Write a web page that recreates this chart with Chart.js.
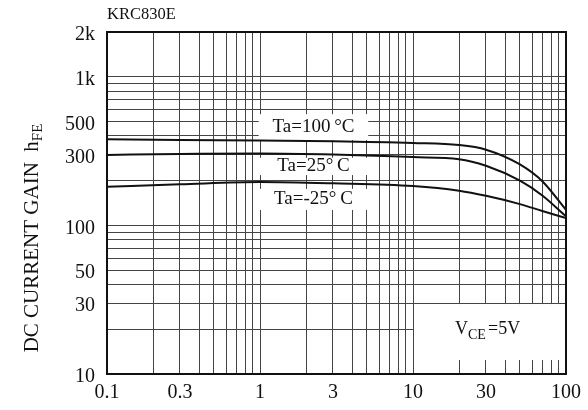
<!DOCTYPE html>
<html>
<head>
<meta charset="utf-8">
<script src="https://cdn.jsdelivr.net/npm/chart.js@4"></script>
<style>
  html, body { margin: 0; padding: 0; background: #fff; }
  #wrap { width: 588px; height: 410px; position: relative; }
</style>
</head>
<body>
<div id="wrap"><canvas id="c" width="588" height="410"></canvas></div>
<script>
// Collector current I_C (mA)
const currents = [0.1, 0.3, 1, 3, 10, 20, 30, 50, 70, 100];
// DC current gain hFE for each ambient temperature
const gain100 = [380, 376, 372, 368, 358, 347, 323, 257, 198, 127];
const gain25 = [298, 302, 305, 300, 288, 279, 252, 200, 159, 115];
const gainM25 = [182, 189, 196, 192, 184, 171, 158, 139, 125, 112];

// Grid positions and the tick values that carry a label
const xGrid = [0.1,0.2,0.3,0.4,0.5,0.6,0.7,0.8,0.9,1,2,3,4,5,6,7,8,9,10,20,30,40,50,60,70,80,90,100];
const xLabels = {0.1:'0.1', 0.3:'0.3', 1:'1', 3:'3', 10:'10', 30:'30', 100:'100'};
const yGrid = [10,20,30,40,50,60,70,80,90,100,200,300,400,500,600,700,800,900,1000,2000];
const yLabels = {10:'10', 30:'30', 50:'50', 100:'100', 300:'300', 500:'500', 1000:'1k', 2000:'2k'};

const serif = '"Liberation Serif", "Times New Roman", serif';

function pts(ys) { return currents.map((x, i) => ({x, y: ys[i]})); }

// White label boxes with text, drawn over the grid
const labelBoxes = [
  {x0: 0.98, x1: 5.1, y0: 560, y1: 375, text: 'Ta=100\u2009°C'},
  {x0: 0.98, x1: 5.1, y0: 285, y1: 218, text: 'Ta=25°\u2009C'},
  {x0: 0.98, x1: 5.1, y0: 176, y1: 127, text: 'Ta=-25°\u2009C'},
];

const overlay = {
  id: 'overlay',
  beforeDatasetsDraw(chart) {
    const {ctx, scales: {x, y}, chartArea: a} = chart;
    ctx.save();
    ctx.fillStyle = '#fff';
    for (const b of labelBoxes) {
      const l = x.getPixelForValue(b.x0), r = x.getPixelForValue(b.x1);
      const t = y.getPixelForValue(b.y0), bt = y.getPixelForValue(b.y1);
      ctx.fillRect(l, t, r - l, bt - t);
    }
    // condition box in the lower right corner
    const vl = x.getPixelForValue(10) + 1, vt = y.getPixelForValue(30) + 1;
    ctx.fillRect(vl, vt, a.right - vl - 1, 360 - vt);
    ctx.restore();
  },
  afterDatasetsDraw(chart) {
    const {ctx, scales: {x, y}, chartArea: a} = chart;
    ctx.save();
    ctx.fillStyle = '#111';
    ctx.font = '19px ' + serif;
    ctx.textAlign = 'center';
    ctx.textBaseline = 'middle';
    for (const b of labelBoxes) {
      const cx = (x.getPixelForValue(b.x0) + x.getPixelForValue(b.x1)) / 2;
      const cy = (y.getPixelForValue(b.y0) + y.getPixelForValue(b.y1)) / 2;
      ctx.fillText(b.text, cx, cy);
    }
    // V_CE = 5V
    ctx.textAlign = 'left';
    ctx.font = '18px ' + serif;
    ctx.fillText('V', 455, 329);
    ctx.font = '14px ' + serif;
    ctx.fillText('CE', 468, 335);
    ctx.font = '18px ' + serif;
    ctx.fillText('=5V', 488, 329);

    // chart title
    ctx.font = '16.5px ' + serif;
    ctx.textAlign = 'left';
    ctx.fillText('KRC830E', 107, 15);

    // frame
    ctx.strokeStyle = '#111';
    ctx.lineWidth = 2;
    ctx.strokeRect(a.left, a.top, a.right - a.left, a.bottom - a.top);

    // vertical axis title with subscript
    ctx.translate(32, 238);
    ctx.rotate(-Math.PI / 2);
    const main = 'DC CURRENT GAIN  h';
    ctx.font = '21px ' + serif;
    const w1 = ctx.measureText(main).width;
    ctx.font = '15px ' + serif;
    const w2 = ctx.measureText('FE').width;
    const start = -(w1 + w2) / 2;
    ctx.font = '21px ' + serif;
    ctx.fillText(main, start, 0);
    ctx.font = '15px ' + serif;
    ctx.fillText('FE', start + w1, 6);
    ctx.restore();
  }
};

const lineStyle = {
  borderColor: '#111',
  borderWidth: 2,
  pointRadius: 0,
  fill: false,
  cubicInterpolationMode: 'monotone'
};

new Chart(document.getElementById('c'), {
  type: 'line',
  data: {
    datasets: [
      {label: 'Ta=100°C', data: pts(gain100), ...lineStyle},
      {label: 'Ta=25°C', data: pts(gain25), ...lineStyle},
      {label: 'Ta=-25°C', data: pts(gainM25), ...lineStyle},
    ]
  },
  options: {
    responsive: false,
    animation: false,
    layout: {padding: {top: 32, right: 20, left: 0, bottom: 0}},
    plugins: {legend: {display: false}, tooltip: {enabled: false}},
    scales: {
      x: {
        type: 'logarithmic',
        min: 0.1, max: 100,
        afterBuildTicks(s) { s.ticks = xGrid.map(v => ({value: v})); },
        afterFit(s) { s.height = 36; },
        grid: {color: '#444', lineWidth: 1, drawTicks: false},
        border: {display: false},
        ticks: {
          autoSkip: false, maxRotation: 0, padding: 7,
          color: '#111', font: {family: serif, size: 20},
          callback: v => xLabels[v] || ''
        }
      },
      y: {
        type: 'logarithmic',
        min: 10, max: 2000,
        afterBuildTicks(s) { s.ticks = yGrid.map(v => ({value: v})); },
        afterFit(s) { s.width = 107; },
        grid: {color: '#444', lineWidth: 1, drawTicks: false},
        border: {display: false},
        ticks: {
          autoSkip: false, padding: 12, labelOffset: 3,
          color: '#111', font: {family: serif, size: 20},
          callback: v => yLabels[v] || ''
        }
      }
    }
  },
  plugins: [overlay]
});
</script>
</body>
</html>
